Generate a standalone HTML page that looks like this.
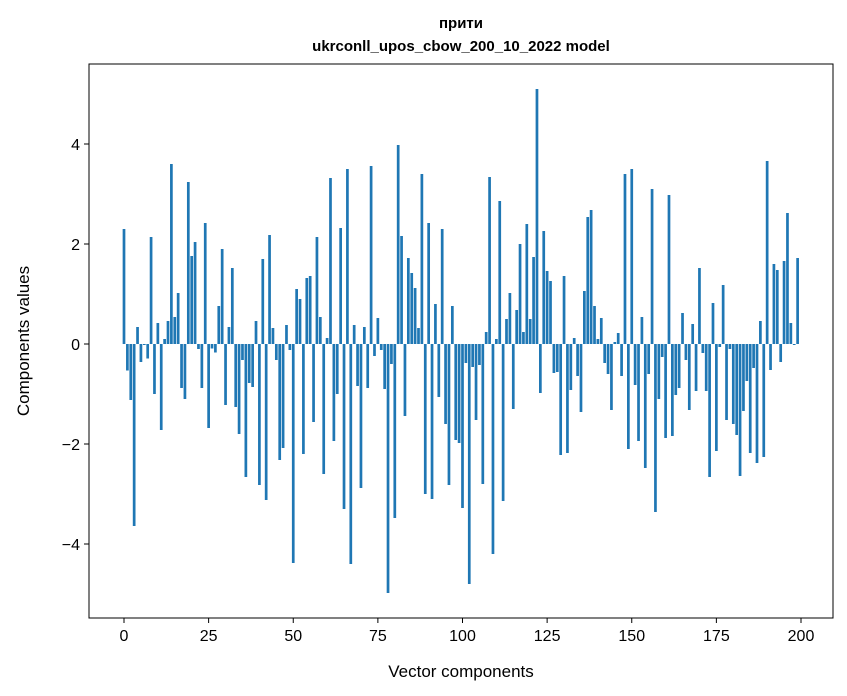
<!DOCTYPE html>
<html><head><meta charset="utf-8"><style>
body{margin:0;background:#fff;}
svg{display:block;font-family:"Liberation Sans","DejaVu Sans",sans-serif;}
</style></head><body>
<svg id="chart" width="847" height="696">
<rect width="847" height="696" fill="#fff"/>
<text x="461" y="28" text-anchor="middle" font-size="15" font-weight="bold">прити</text>
<text x="461" y="51" text-anchor="middle" font-size="15" font-weight="bold">ukrconll_upos_cbow_200_10_2022 model</text>
<g id="bars"></g>
<g id="axes"></g>
<rect x="89" y="64" width="744" height="554" fill="none" stroke="#000" stroke-width="1"/>
<text x="461" y="677" text-anchor="middle" font-size="17">Vector components</text>
<text transform="translate(29,341) rotate(-90)" text-anchor="middle" font-size="17">Components values</text>
</svg>
<script>
const values = [2.3,-0.53,-1.12,-3.64,0.34,-0.36,-0.02,-0.29,2.14,-1.0,
0.42,-1.72,0.1,0.46,3.6,0.54,1.02,-0.88,-1.1,3.24,
1.76,2.04,-0.1,-0.88,2.42,-1.68,-0.09,-0.17,0.76,1.9,
-1.22,0.34,1.52,-1.26,-1.8,-0.32,-2.66,-0.78,-0.86,0.46,
-2.82,1.7,-3.12,2.18,0.32,-0.32,-2.32,-2.08,0.38,-0.12,
-4.38,1.1,0.9,-2.2,1.32,1.36,-1.56,2.14,0.54,-2.6,
0.12,3.32,-1.94,-1.0,2.32,-3.3,3.5,-4.4,0.38,-0.84,
-2.88,0.34,-0.88,3.56,-0.24,0.52,-0.12,-0.9,-4.98,-0.4,
-3.48,3.98,2.16,-1.44,1.72,1.42,1.12,0.32,3.4,-3.0,
2.42,-3.1,0.8,-1.06,2.3,-1.6,-2.82,0.76,-1.92,-1.98,
-3.28,-0.38,-4.8,-0.46,-1.52,-0.42,-2.8,0.24,3.34,-4.2,
0.1,2.86,-3.14,0.5,1.02,-1.3,0.68,2.0,0.24,2.4,
0.5,1.74,5.1,-0.98,2.26,1.46,1.26,-0.58,-0.56,-2.22,
1.36,-2.18,-0.92,0.12,-0.64,-1.36,1.06,2.54,2.68,0.76,
0.1,0.52,-0.38,-0.6,-1.32,0.04,0.22,-0.64,3.4,-2.1,
3.5,-0.82,-1.94,0.54,-2.48,-0.6,3.1,-3.36,-1.1,-0.26,
-1.88,2.98,-1.84,-1.02,-0.88,0.62,-0.32,-1.32,0.4,-0.94,
1.52,-0.18,-0.94,-2.66,0.82,-2.14,-0.06,1.18,-1.52,-0.1,
-1.6,-1.82,-2.64,-1.34,-0.74,-2.18,-0.48,-2.38,0.46,-2.26,
3.66,-0.52,1.6,1.48,-0.36,1.66,2.62,0.42,-0.02,1.72];
const xTicks = [0,25,50,75,100,125,150,175,200];
const yTicks = [-4,-2,0,2,4];
const yTickLabels = ["\u22124","\u22122","0","2","4"];

const NS="http://www.w3.org/2000/svg";
function xs(v){return 124 + v*(801-124)/200;}
function ys(v){return 344 - v*50;}
const bars=document.getElementById('bars');
values.forEach((v,i)=>{
  const r=document.createElementNS(NS,'rect');
  const w=0.8*(801-124)/200;
  r.setAttribute('x',xs(i)-w/2);
  r.setAttribute('width',w);
  r.setAttribute('y',Math.min(ys(v),ys(0)));
  r.setAttribute('height',Math.abs(ys(v)-ys(0)));
  r.setAttribute('fill','#1f77b4');
  
  
  bars.appendChild(r);
});
const axes=document.getElementById('axes');
xTicks.forEach(t=>{
  const l=document.createElementNS(NS,'line');
  l.setAttribute('x1',xs(t));l.setAttribute('x2',xs(t));
  l.setAttribute('y1',618);l.setAttribute('y2',623);
  l.setAttribute('stroke','#000');
  
  
  axes.appendChild(l);
  const tx=document.createElementNS(NS,'text');
  tx.setAttribute('x',xs(t));tx.setAttribute('y',641);
  tx.setAttribute('text-anchor','middle');tx.setAttribute('font-size','16');
  tx.textContent=t;
  
  
  axes.appendChild(tx);
});
yTicks.forEach((t,k)=>{
  const l=document.createElementNS(NS,'line');
  l.setAttribute('x1',84);l.setAttribute('x2',89);
  l.setAttribute('y1',ys(t));l.setAttribute('y2',ys(t));
  l.setAttribute('stroke','#000');
  
  
  axes.appendChild(l);
  const tx=document.createElementNS(NS,'text');
  tx.setAttribute('x',80);tx.setAttribute('y',ys(t)+6);
  tx.setAttribute('text-anchor','end');tx.setAttribute('font-size','16');
  tx.textContent=yTickLabels[k];
  
  
  axes.appendChild(tx);
});
</script>
</body></html>
